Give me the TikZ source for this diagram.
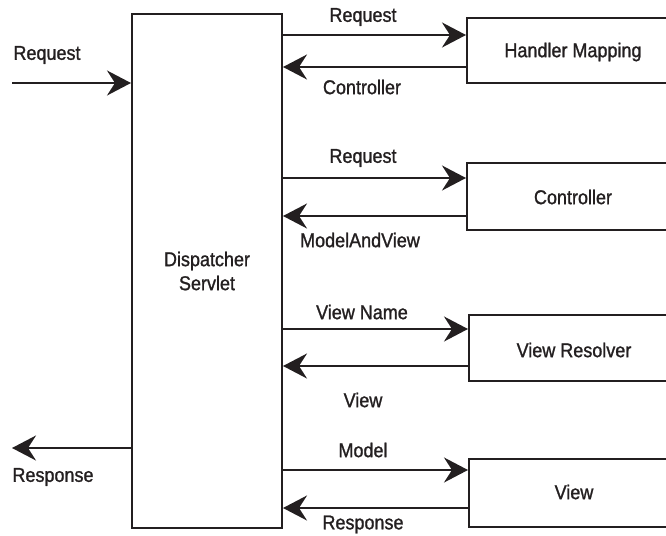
\documentclass[tikz,border=0pt]{standalone}
\usepackage{fontspec}
\setmainfont{Liberation Sans}[FakeStretch=0.9,FakeBold=1.2]
\usetikzlibrary{arrows.meta}
\definecolor{ink}{HTML}{231F20}
\begin{document}
\begin{tikzpicture}[x=1pt,y=-1pt,
  every node/.style={font=\fontsize{20}{23}\selectfont, inner sep=0pt, text=ink},
  box/.style={draw=ink, line width=2pt, fill=white},
  arr/.style={draw=ink, line width=2pt, -{Stealth[length=24pt,width=25pt,inset=8pt]}},
  lbl/.style={anchor=center}]
\useasboundingbox (0,0) rectangle (666,535);
\clip (0,0) rectangle (666,535);
% boxes
\node[box, minimum width=150pt, minimum height=514pt, align=center] (ds) at (207,271) {Dispatcher\\[1pt]Servlet};
\node[box, minimum width=212pt, minimum height=65pt] (hm) at (573,50.5) {};
\node (hmt) at (573,52) {Handler Mapping};
\node[box, minimum width=212pt, minimum height=67pt] (ct) at (573,196.5) {};
\node (ctt) at (573,197) {Controller};
\node[box, minimum width=210pt, minimum height=66pt] (vr) at (574,348) {};
\node (vrt) at (574,350) {View Resolver};
\node[box, minimum width=210pt, minimum height=68pt] (vw) at (574,493) {};
\node (vwt) at (574,492) {View};
% external
\coordinate (rin) at (12,83);
\coordinate (rout) at (12,448);
\draw[arr] (rin) -- (rin -| ds.west);
\draw[arr] (ds.west |- rout) -- (rout);
\node (lreq) at (47,55) {Request};
\node (lresp) at (53,477) {Response};
% handler mapping
\draw[arr] (ds.east |- 0,35) -- (hm.west |- 0,35);
\draw[arr] (hm.west |- 0,67) -- (ds.east |- 0,67);
\node (l1) at (363,17) {Request};
\node (l2) at (362,87) {Controller};
% controller
\draw[arr] (ds.east |- 0,178) -- (ct.west |- 0,178);
\draw[arr] (ct.west |- 0,216) -- (ds.east |- 0,216);
\node (l3) at (363,158) {Request};
\node (l4) at (360,240) {ModelAndView};
% view resolver
\draw[arr] (ds.east |- 0,329) -- (vr.west |- 0,329);
\draw[arr] (vr.west |- 0,366) -- (ds.east |- 0,366);
\node (l5) at (362,312) {View Name};
\node (l6) at (363,400) {View};
% view
\draw[arr] (ds.east |- 0,470) -- (vw.west |- 0,470);
\draw[arr] (vw.west |- 0,508) -- (ds.east |- 0,508);
\node (l7) at (363,450) {Model};
\node (l8) at (363,524.5) {Response};
\end{tikzpicture}
\end{document}
